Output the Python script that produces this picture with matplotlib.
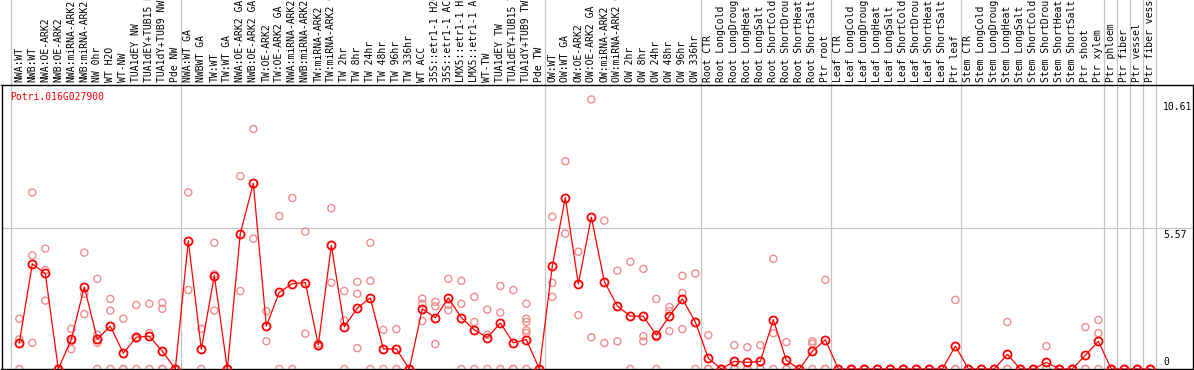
import matplotlib
matplotlib.use("Agg")
import matplotlib.pyplot as plt
import matplotlib.transforms as mtransforms

gene = "Potri.016G027900"

labels = [
    # NW
    "NWA:WT", "NWB:WT", "NWA:OE-ARK2", "NWB:OE-ARK2", "NWA:miRNA-ARK2", "NWB:miRNA-ARK2",
    "NW 0hr", "WT H2O", "WT-NW", "TUA1dEY NW", "TUA1dEY+TUB15 NW", "TUA1dY+TUB9 NW", "Pde NW",
    # GA / TW
    "NWA:WT GA", "NWBWT GA", "TW:WT", "TW:WT GA", "NWA:OE-ARK2 GA", "NWB:OE-ARK2 GA",
    "TW:OE-ARK2", "TW:OE-ARK2 GA", "NWA:miRNA-ARK2 GA", "NWB:miRNA-ARK2 GA", "TW:miRNA-ARK2",
    "TW:miRNA-ARK2 GA", "TW 2hr", "TW 8hr", "TW 24hr", "TW 48hr", "TW 96hr", "TW 336hr",
    "WT ACC", "35S::etr1-1 H2O", "35S::etr1-1 ACC", "LMX5::etr1-1 H2O", "LMX5::etr1-1 ACC",
    "WT-TW", "TUA1dEY TW", "TUA1dEY+TUB15 TW", "TUA1dY+TUB9 TW", "Pde TW",
    # OW
    "OW:WT", "OW:WT GA", "OW:OE-ARK2", "OW:OE-ARK2 GA", "OW:miRNA-ARK2", "OW:miRNA-ARK2 GA",
    "OW 2hr", "OW 8hr", "OW 24hr", "OW 48hr", "OW 96hr", "OW 336hr",
    # root
    "Root CTR", "Root LongCold", "Root LongDrought", "Root LongHeat", "Root LongSalt",
    "Root ShortCold", "Root ShortDrought", "Root ShortHeat", "Root ShortSalt", "Ptr root",
    # leaf
    "Leaf CTR", "Leaf LongCold", "Leaf LongDrought", "Leaf LongHeat", "Leaf LongSalt",
    "Leaf ShortCold", "Leaf ShortDrought", "Leaf ShortHeat", "Leaf ShortSalt", "Ptr leaf",
    # stem + tissues
    "Stem CTR", "Stem LongCold", "Stem LongDrought", "Stem LongHeat", "Stem LongSalt",
    "Stem ShortCold", "Stem ShortDrought", "Stem ShortHeat", "Stem ShortSalt", "Ptr shoot",
    "Ptr xylem", "Ptr phloem", "Ptr fiber", "Ptr vessel", "Ptr fiber vessel",
]

means = [
    1.03, 4.14, 3.76, 0, 1.17, 3.23, 1.17, 1.69, 0.62, 1.25, 1.29, 0.70, 0,
    5.05, 0.78, 3.68, 0, 5.33, 7.31, 1.69, 3.02, 3.36, 3.40, 0.95, 4.87, 1.66, 2.40,
    2.80, 0.79, 0.79, 0, 2.37, 2.02, 2.80, 2.02, 1.54, 1.24, 1.81, 1.03, 1.16, 0,
    4.06, 6.75, 3.35, 5.98, 3.44, 2.48, 2.08, 2.08, 1.33, 2.08, 2.76, 1.85,
    0.42, 0, 0.30, 0.26, 0.30, 1.94, 0.34, 0, 0.70, 1.15,
    0, 0, 0, 0, 0, 0, 0, 0, 0, 0.90,
    0, 0, 0, 0.58, 0, 0, 0.26, 0, 0, 0.54, 1.09, 0, 0, 0, 0,
]

replicates = [
    [1.98, 1.17, 0], [6.95, 4.47, 1.03], [4.74, 3.89, 2.69], [0, 0, 0],
    [1.58, 1.08, 0.78], [4.58, 2.96, 2.16], [3.55, 1.35, 1.03, 0], [2.76, 2.30, 0],
    [1.98, 0, 0], [2.52, 1.2, 0], [2.57, 1.41, 0], [2.61, 2.37, 0, 0], [0, 0],
    [6.95, 3.11], [1.58, 0], [4.97, 3.73, 2.30], [0, 0], [7.59, 3.07], [9.45, 5.13],
    [2.28, 1.09], [6.02, 0], [6.73, 0], [5.41, 1.39], [1.0, 0.9], [6.33, 3.40],
    [3.07, 1.91, 0], [3.43, 2.96, 0.82], [4.97, 3.47, 0], [1.54, 0], [1.57, 0], [0, 0],
    [2.77, 2.57, 1.89], [2.64, 2.47, 0.98], [3.55, 2.53, 2.31], [3.47, 2.57, 0],
    [2.84, 1.85, 0], [2.34, 1.35, 0], [3.27, 2.22, 0], [3.11, 0, 0],
    [2.57, 1.98, 1.85, 1.52, 1.42, 0], [0, 0],
    [6.00, 3.39, 2.84], [8.18, 5.33], [4.62, 2.12], [10.61, 1.25], [5.84, 1.02],
    [3.87, 1.09], [4.22, 0], [3.94, 1.29, 1.09], [2.76, 1.25, 0], [2.44, 2.28, 1.49],
    [3.67, 2.99, 1.57], [3.76, 0],
    [1.33, 0, 0], [0, 0, 0], [0.94, 0, 0], [0.86, 0, 0], [0.94, 0, 0], [4.34, 1.41, 0],
    [1.06, 0, 0], [0, 0, 0], [1.09, 1.0, 0], [3.51, 0, 0],
    [0, 0, 0], [0, 0, 0], [0, 0, 0], [0, 0, 0], [0, 0, 0], [0, 0, 0], [0, 0, 0],
    [0, 0, 0], [0, 0, 0], [2.72, 0, 0],
    [0, 0, 0], [0, 0, 0], [0, 0, 0], [1.85, 0, 0], [0, 0, 0], [0, 0, 0], [0.90, 0, 0],
    [0, 0, 0], [0, 0, 0], [1.65, 0, 0], [1.93, 1.41, 0],
    [0, 0, 0], [0, 0, 0], [0, 0, 0], [0, 0, 0],
]

# columns after which a group separator is drawn
group_ends = [12, 40, 52, 62, 72, 83, 84, 85, 86, 87]
y_ticks = [0, 5.57, 10.61]

W, H = 1194, 370
fig = plt.figure(figsize=(W / 100, H / 100), dpi=100)
ax = fig.add_axes([1.5 / W, 1 / H, (1193 - 1.5) / W, 284 / H])

x = list(range(len(means)))
ax.set_xlim(-1.37, 90.28)
ax.set_ylim(0, 11.18)
ax.set_xticks([])
ax.set_yticks([])
for s in ax.spines.values():
    s.set_color("black")
    s.set_linewidth(1.0)

grey = "#c4c4c4"
ax.axhline(5.57, color=grey, lw=0.9, zorder=0)
top = 369 / 284
ax.axvline(-0.65, ymin=-0.01, ymax=top, color=grey, lw=0.9, clip_on=False, zorder=0)
for g in group_ends:
    ax.axvline(g + 0.4, ymin=-0.01, ymax=top, color=grey, lw=0.9, clip_on=False, zorder=0)

# replicate points
rx, ry = [], []
for i, reps in enumerate(replicates):
    for v in reps:
        rx.append(i)
        ry.append(v)
ax.scatter(rx, ry, s=26, facecolors="none", edgecolors="#f08c8c", linewidths=1.0, zorder=2)

# mean line
ax.plot(x, means, "-o", color="red", lw=0.9, ms=5.8, mfc="none", mew=1.3, zorder=3)

mono = "DejaVu Sans Mono"
trans = mtransforms.blended_transform_factory(ax.transData, ax.transAxes)
for i, lab in enumerate(labels):
    ax.text(i, 1 + 2.5 / 284, lab, transform=trans, rotation=90, ha="center", va="bottom",
            fontsize=7, family=mono, clip_on=False)

fig.text(10 / W, 1 - 97 / H, gene, color="red", fontsize=7, family=mono, va="center", ha="left")

for v in y_ticks:
    off = 0.26 if v == 0 else -0.28
    ax.text(88.0, v + off, f"{v:g}", fontsize=7, family=mono, va="center", ha="left")

fig.savefig("out.png", dpi=100)
